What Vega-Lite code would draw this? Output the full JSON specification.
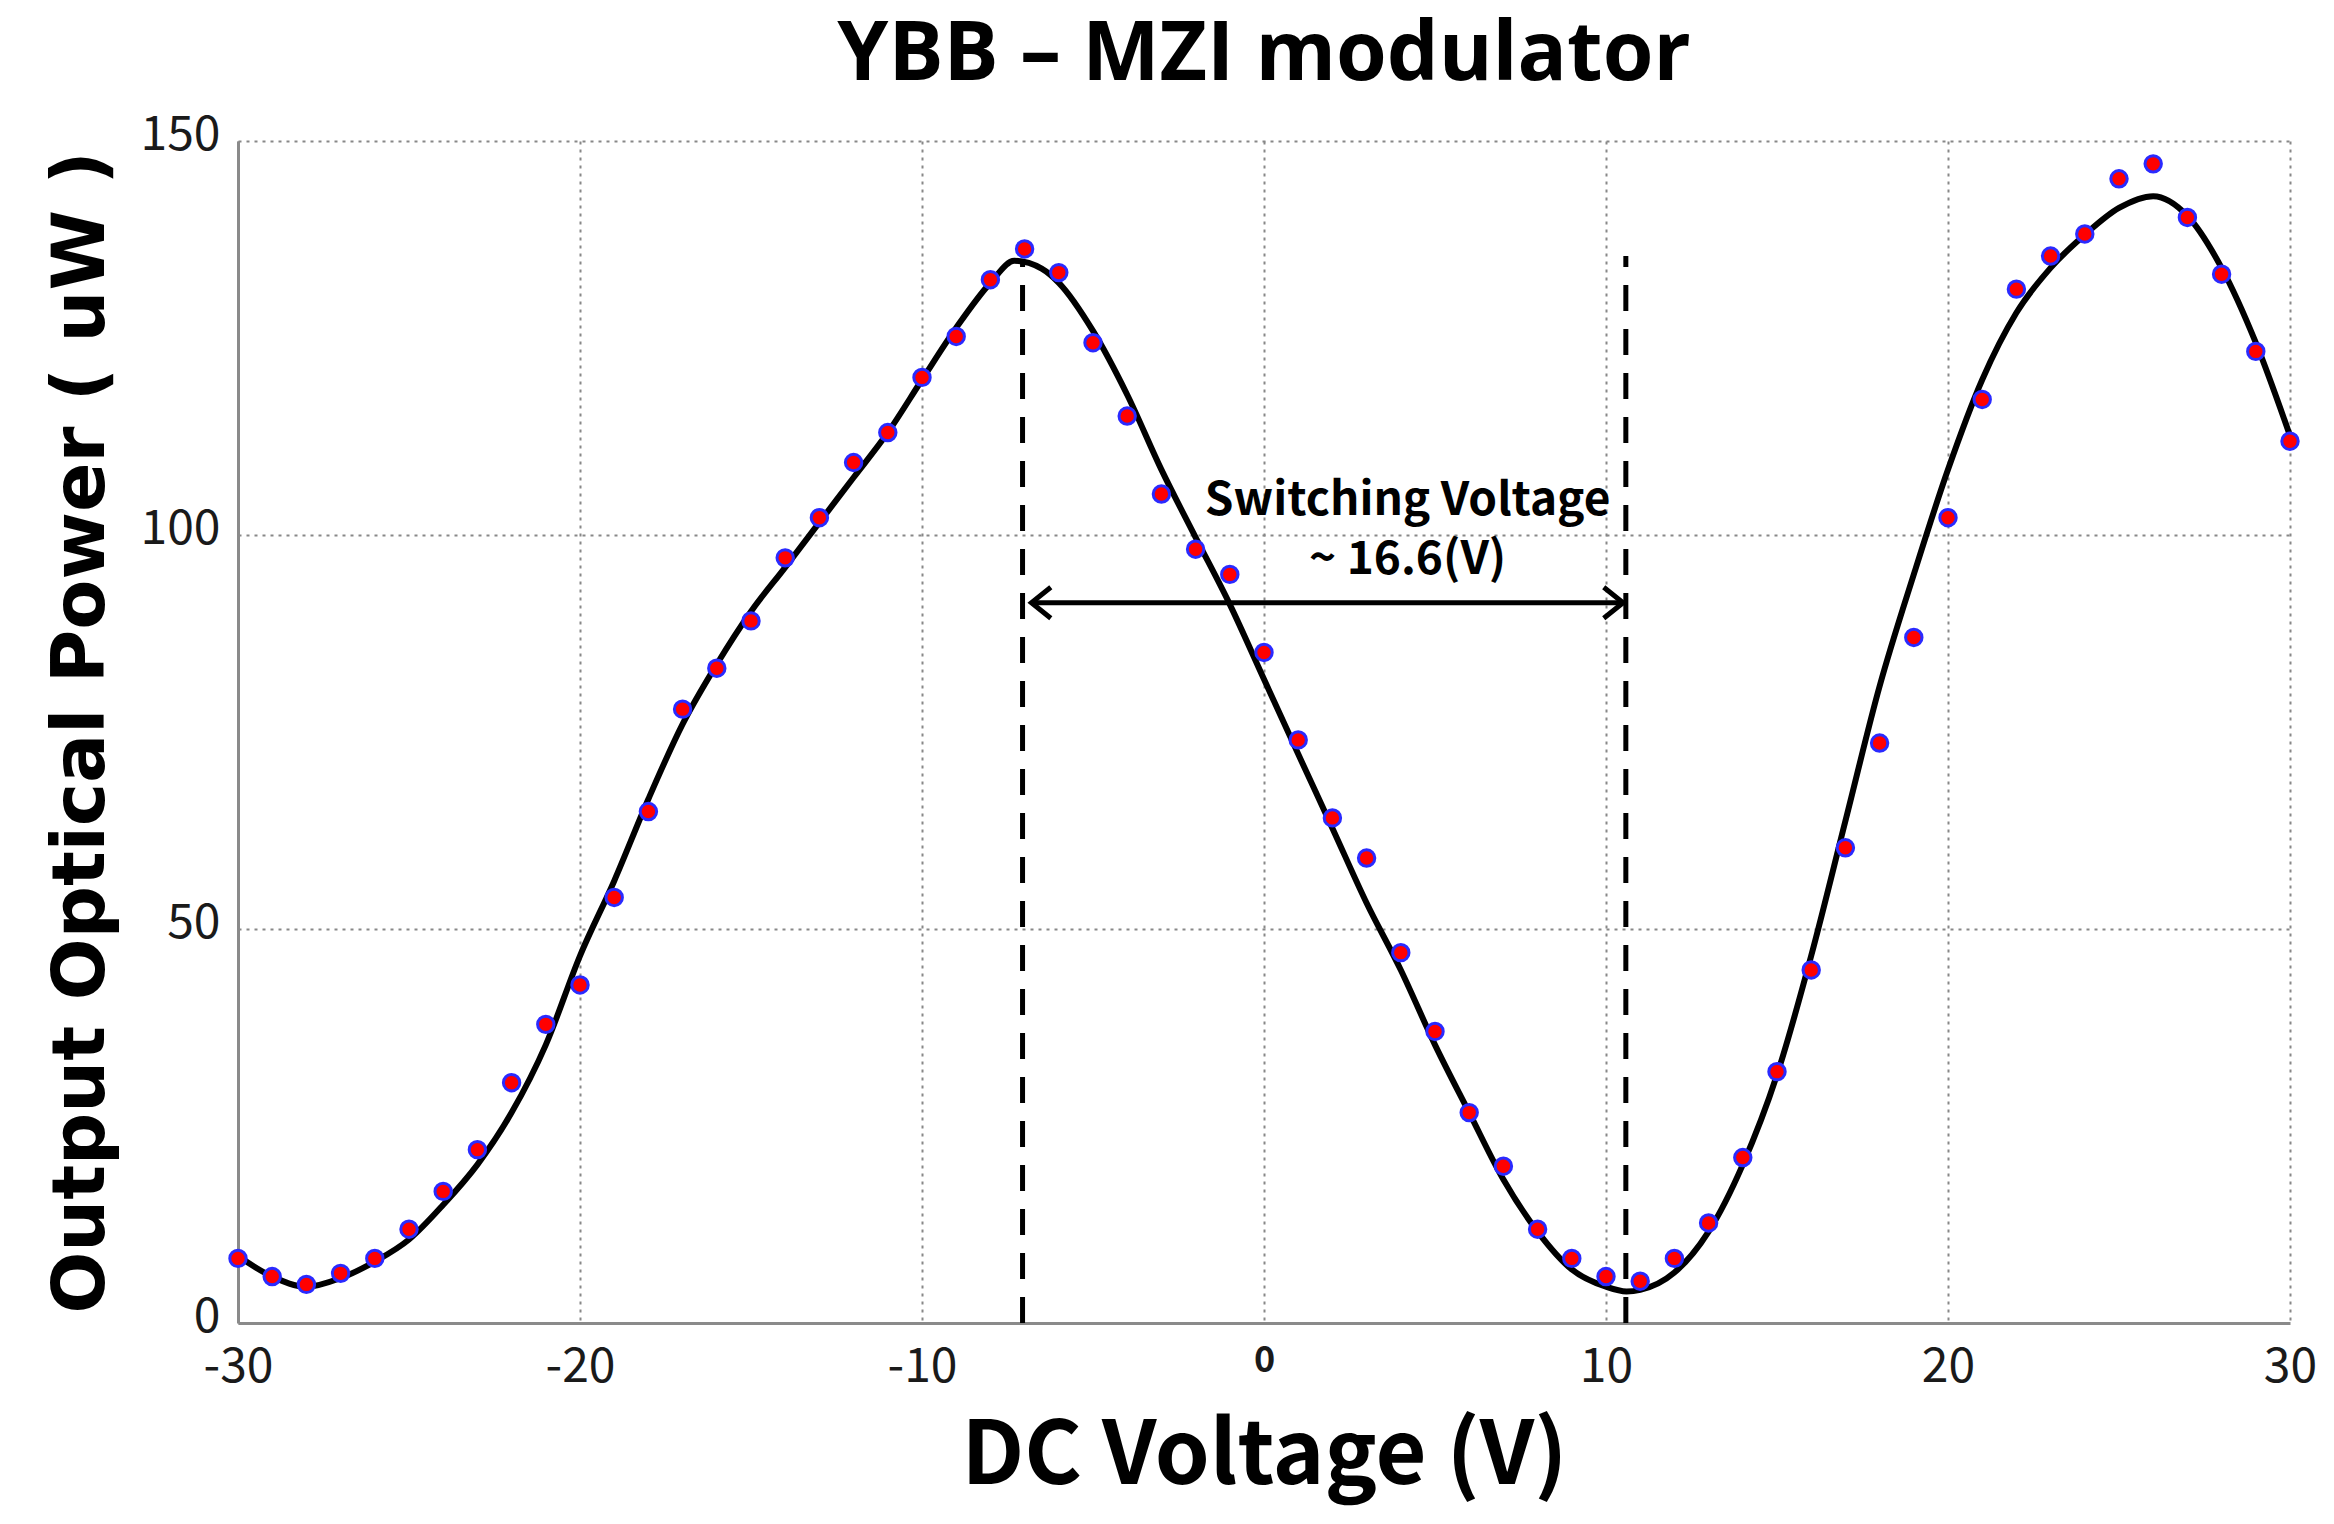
{
  "$schema": "https://vega.github.io/schema/vega-lite/v6.json",
  "width": 2052,
  "height": 1182,
  "autosize": "none",
  "padding": {"left": 238, "top": 141, "right": 44, "bottom": 201},
  "background": "white",
  "title": {
    "text": "YBB – MZI modulator",
    "font": "Open Sans",
    "fontSize": 82,
    "fontWeight": "bold",
    "color": "black",
    "anchor": "middle",
    "offset": 14
  },
  "datasets": {
    "measured": [
      {"v": -30, "p": 8.2}, {"v": -29, "p": 5.9}, {"v": -28, "p": 4.9}, {"v": -27, "p": 6.3},
      {"v": -26, "p": 8.2}, {"v": -25, "p": 11.9}, {"v": -24, "p": 16.7}, {"v": -23, "p": 22.0},
      {"v": -22, "p": 30.5}, {"v": -21, "p": 37.9}, {"v": -20, "p": 42.9}, {"v": -19, "p": 54.0},
      {"v": -18, "p": 64.9}, {"v": -17, "p": 77.9}, {"v": -16, "p": 83.1}, {"v": -15, "p": 89.1},
      {"v": -14, "p": 97.1}, {"v": -13, "p": 102.2}, {"v": -12, "p": 109.2}, {"v": -11, "p": 113.0},
      {"v": -10, "p": 120.0}, {"v": -9, "p": 125.2}, {"v": -8, "p": 132.4}, {"v": -7, "p": 136.3},
      {"v": -6, "p": 133.3}, {"v": -5, "p": 124.4}, {"v": -4, "p": 115.1}, {"v": -3, "p": 105.2},
      {"v": -2, "p": 98.2}, {"v": -1, "p": 95.0}, {"v": 0, "p": 85.1}, {"v": 1, "p": 74.0},
      {"v": 2, "p": 64.1}, {"v": 3, "p": 59.0}, {"v": 4, "p": 47.0}, {"v": 5, "p": 37.0},
      {"v": 6, "p": 26.7}, {"v": 7, "p": 19.9}, {"v": 8, "p": 11.9}, {"v": 9, "p": 8.2},
      {"v": 10, "p": 5.9}, {"v": 11, "p": 5.3}, {"v": 12, "p": 8.2}, {"v": 13, "p": 12.7},
      {"v": 14, "p": 21.0}, {"v": 15, "p": 31.9}, {"v": 16, "p": 44.8}, {"v": 17, "p": 60.3},
      {"v": 18, "p": 73.6}, {"v": 19, "p": 87.0}, {"v": 20, "p": 102.2}, {"v": 21, "p": 117.2},
      {"v": 22, "p": 131.2}, {"v": 23, "p": 135.4}, {"v": 24, "p": 138.2}, {"v": 25, "p": 145.2},
      {"v": 26, "p": 147.1}, {"v": 27, "p": 140.3}, {"v": 28, "p": 133.1}, {"v": 29, "p": 123.3},
      {"v": 30, "p": 111.9}
    ],
    "fit": [
      {"v": -30, "p": 8.5}, {"v": -29, "p": 5.9}, {"v": -28, "p": 4.6}, {"v": -27, "p": 5.7},
      {"v": -26, "p": 7.8}, {"v": -25, "p": 10.6}, {"v": -24, "p": 15.0}, {"v": -23, "p": 20.1},
      {"v": -22, "p": 26.7}, {"v": -21, "p": 35.3}, {"v": -20, "p": 46.6}, {"v": -19, "p": 56.1},
      {"v": -18, "p": 66.5}, {"v": -17, "p": 76.0}, {"v": -16, "p": 83.6}, {"v": -15, "p": 90.3},
      {"v": -14, "p": 95.9}, {"v": -13, "p": 101.6}, {"v": -12, "p": 107.3}, {"v": -11, "p": 113.0},
      {"v": -10, "p": 119.7}, {"v": -9, "p": 126.3}, {"v": -8, "p": 132.0}, {"v": -7.3, "p": 134.8},
      {"v": -6.5, "p": 133.8}, {"v": -6, "p": 132.0}, {"v": -5, "p": 125.9}, {"v": -4, "p": 117.8},
      {"v": -3, "p": 108.3}, {"v": -2, "p": 99.7}, {"v": -1, "p": 91.2}, {"v": 0, "p": 81.7},
      {"v": 1, "p": 72.2}, {"v": 2, "p": 62.8}, {"v": 3, "p": 53.3}, {"v": 4, "p": 44.8},
      {"v": 5, "p": 35.3}, {"v": 6, "p": 26.7}, {"v": 7, "p": 18.2}, {"v": 8, "p": 11.6},
      {"v": 9, "p": 6.8}, {"v": 10, "p": 4.6}, {"v": 10.6, "p": 4.0}, {"v": 11, "p": 4.2},
      {"v": 12, "p": 6.4}, {"v": 13, "p": 11.6}, {"v": 14, "p": 20.1}, {"v": 15, "p": 31.5},
      {"v": 16, "p": 46.6}, {"v": 17, "p": 63.7}, {"v": 18, "p": 80.8}, {"v": 19, "p": 95.0},
      {"v": 20, "p": 108.3}, {"v": 21, "p": 119.7}, {"v": 22, "p": 128.2}, {"v": 23, "p": 133.9},
      {"v": 24, "p": 138.1}, {"v": 25, "p": 141.5}, {"v": 26, "p": 143.0}, {"v": 27, "p": 140.5},
      {"v": 28, "p": 133.9}, {"v": 29, "p": 124.4}, {"v": 30, "p": 112.6}
    ],
    "marker": [
      {"v": -7.06, "lo": 0, "hi": 134.6},
      {"v": 10.58, "lo": 0, "hi": 135.4}
    ],
    "arrow": [
      {"v1": -6.8, "v2": 10.5, "p": 91.4}
    ],
    "heads": [
      {"v": -6.8, "p": 91.4, "side": "left"},
      {"v": 10.5, "p": 91.4, "side": "right"}
    ],
    "notes": [
      {"v": 4.2, "p": 104.3, "label": "Switching Voltage"},
      {"v": 4.2, "p": 96.8, "label": "~ 16.6(V)"}
    ]
  },
  "layer": [
    {
      "data": {"name": "fit"},
      "mark": {"type": "line", "color": "black", "strokeWidth": 6, "interpolate": "monotone"},
      "encoding": {
        "x": {
          "field": "v",
          "type": "quantitative",
          "scale": {"domain": [-30, 30], "nice": false, "zero": false},
          "axis": {
            "values": [-30, -20, -10, 0, 10, 20, 30],
            "labelExpr": "toString(datum.value)",
            "title": "DC Voltage (V)",
            "titleFont": "Noto Sans CJK KR",
            "titleFontSize": 88,
            "titleFontWeight": "bold",
            "titleColor": "black",
            "titlePadding": 22,
            "labelFont": "Noto Sans CJK KR",
            "labelFontSize": {"condition": {"test": "datum.value == 0", "value": 36}, "value": 48},
            "labelFontWeight": {"condition": {"test": "datum.value == 0", "value": "bold"}, "value": "normal"},
            "labelColor": "#1a1a1a",
            "labelPadding": 20,
            "labelFlush": false,
            "ticks": false,
            "domainColor": "#8a8a8a",
            "domainWidth": 3,
            "gridColor": "#888888",
            "gridDash": [3, 5],
            "gridWidth": 2
          }
        },
        "y": {
          "field": "p",
          "type": "quantitative",
          "scale": {"domain": [0, 150], "nice": false},
          "axis": {
            "values": [0, 50, 100, 150],
            "title": "Output Optical Power ( uW )",
            "titleFont": "DejaVu Sans",
            "titleFontSize": 73,
            "titleFontWeight": "bold",
            "titleColor": "black",
            "titlePadding": 22,
            "labelFont": "Noto Sans CJK KR",
            "labelFontSize": 48,
            "labelColor": "#1a1a1a",
            "labelPadding": 18,
            "labelOffset": -6,
            "ticks": false,
            "domainColor": "#8a8a8a",
            "domainWidth": 3,
            "gridColor": "#888888",
            "gridDash": [3, 5],
            "gridWidth": 2
          }
        }
      }
    },
    {
      "data": {"name": "measured"},
      "mark": {"type": "point", "shape": "circle", "filled": true, "fill": "#ff0000", "stroke": "#2a2aff", "strokeWidth": 3, "size": 270, "opacity": 1},
      "encoding": {
        "x": {"field": "v", "type": "quantitative"},
        "y": {"field": "p", "type": "quantitative"}
      }
    },
    {
      "data": {"name": "marker"},
      "mark": {"type": "rule", "color": "black", "strokeWidth": 5, "strokeDash": [26, 18]},
      "encoding": {
        "x": {"field": "v", "type": "quantitative"},
        "y": {"field": "lo", "type": "quantitative"},
        "y2": {"field": "hi"}
      }
    },
    {
      "data": {"name": "arrow"},
      "mark": {"type": "rule", "color": "black", "strokeWidth": 5},
      "encoding": {
        "x": {"field": "v1", "type": "quantitative"},
        "x2": {"field": "v2"},
        "y": {"field": "p", "type": "quantitative"}
      }
    },
    {
      "data": {"name": "heads"},
      "mark": {"type": "point", "filled": false, "stroke": "black", "strokeWidth": 5, "size": 1500, "opacity": 1},
      "encoding": {
        "x": {"field": "v", "type": "quantitative"},
        "y": {"field": "p", "type": "quantitative"},
        "shape": {
          "field": "side",
          "type": "nominal",
          "scale": {"domain": ["left", "right"], "range": ["M 1 -0.8 L 0 0 L 1 0.8", "M -1 -0.8 L 0 0 L -1 0.8"]},
          "legend": null
        }
      }
    },
    {
      "data": {"name": "notes"},
      "mark": {"type": "text", "font": "Noto Sans CJK KR", "fontSize": 46, "fontWeight": 600, "color": "black", "align": "center", "baseline": "middle"},
      "encoding": {
        "x": {"field": "v", "type": "quantitative"},
        "y": {"field": "p", "type": "quantitative"},
        "text": {"field": "label"}
      }
    }
  ],
  "config": {
    "view": {"stroke": null}
  }
}
